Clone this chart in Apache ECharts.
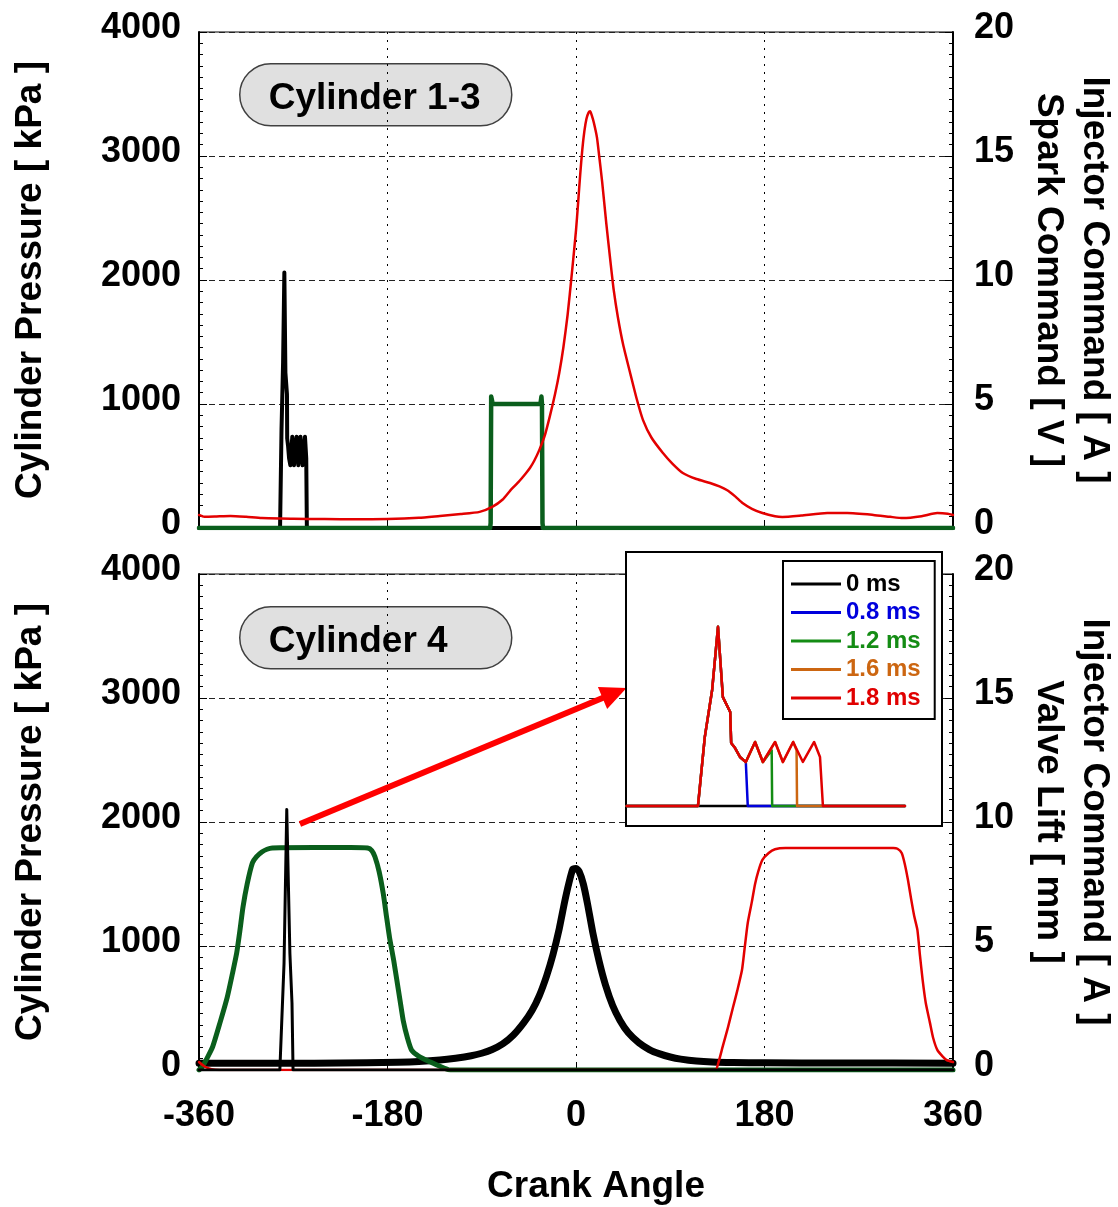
<!DOCTYPE html>
<html><head><meta charset="utf-8">
<script src="https://cdn.jsdelivr.net/npm/echarts/dist/echarts.min.js"></script>
<style>html,body{margin:0;padding:0;background:#fff;overflow:hidden}#c{width:1118px;height:1207px}</style>
</head><body><div id="c"></div>
<script>
// ---------------- DATA ----------------
const xTickLabels = [-360, -180, 0, 180, 360];
const pressureTicks = [0, 1000, 2000, 3000, 4000];
const rightTicks = [0, 5, 10, 15, 20];

// Top panel (Cylinder 1-3): cylinder pressure [kPa]
const cyl13PressAngle = [-360,-355,-345,-330,-315,-300,-270,-240,-210,-180,-150,-130,-110,-92,-80,-70,-63,-55,-48,-44,-40,-35,-30,-25,-20,-16,-12,-8,-4,0,2,4,6,8,10,12,13.5,15,17,20,22,25,29,33,36,40,45,52,58,64,72,83,92,102,115,128,137,144,152,159,168,178,190,197,215,240,259,284,300,312,330,345,355,360];
const cyl13Press      = [105,90,92,97,90,80,75,72,70,72,82,97,112,130,170,230,300,370,440,484,540,630,740,900,1080,1250,1460,1720,2050,2400,2620,2850,3050,3200,3300,3350,3360,3330,3270,3150,3010,2790,2450,2140,1920,1700,1480,1240,1040,870,730,605,520,444,395,363,335,306,255,202,155,121,95,89,100,120,120,105,90,80,95,120,115,105];

// Top panel: injector command [A]
const cyl13InjAngle = [-360,-282.6,-281.2,-279.7,-278.5,-277.5,-276.0,-275.8,-275.0,-274.0,-272.8,-270.9,-269.3,-266.8,-265.2,-263.1,-261.1,-258.8,-257.6,-257.0,360];
const cyl13Inj      = [0,0,3.97,6.67,10.3,6.26,5.4,3.62,3.33,2.82,2.53,3.68,2.53,3.68,2.53,3.68,2.53,3.68,2.82,0,0];

// Top panel: spark command [V]
const sparkAngle = [-360,-82,-81.5,-81,-80,-79,-34,-33,-32.5,-32,-31.5,360];
const spark      = [0,0,0.2,5.3,5.1,5.0,5.0,5.3,5.0,0.2,0,0];

// Bottom panel (Cylinder 4): cylinder pressure [kPa]
const cyl4PressAngle = [-360,-300,-250,-200,-170,-150,-130,-115,-100,-90,-80,-70,-60,-50,-42,-35,-28,-22,-16,-11,-7,-3,0,3,7,11,16,22,28,35,42,50,60,70,80,90,100,115,130,150,180,250,360];
const cyl4Press      = [55,55,55,58,62,68,80,95,115,135,165,210,280,380,480,600,760,930,1140,1350,1500,1620,1625,1600,1500,1340,1110,880,690,520,400,300,220,165,130,105,88,72,64,60,58,56,55];

// Bottom panel: intake valve lift [mm]
const intakeAngle = [-360,-357,-352,-347,-340,-333,-328,-324,-321,-318,-314,-309,-305,-300,-295,-290,-250,-215,-199,-195,-192,-188,-184,-181,-178,-174,-171,-168,-165,-161,-157,-150,-139,-130,-120,360];
const intakeLift  = [0,0.12,0.5,0.93,1.9,2.94,3.9,4.72,5.6,6.57,7.5,8.35,8.6,8.79,8.9,8.95,8.97,8.97,8.95,8.85,8.6,8.0,7.1,6.2,5.33,4.4,3.6,2.8,2.0,1.3,0.8,0.55,0.32,0.15,0,0];

// Bottom panel: exhaust valve lift [mm]
const exhaustAngle = [-360,-355,-348,-340,133,136,140,145,150,154,158.5,161,164,168,171,174,178,184,190,200,250,303,307,311,314,317,320,323,326,328.5,331,334,338,341,345,350,354,360];
const exhaustLift  = [0.32,0.15,0.03,0,0,0.3,0.93,1.7,2.54,3.2,4.03,4.9,5.93,6.8,7.5,8.0,8.47,8.75,8.9,8.95,8.95,8.95,8.92,8.75,8.3,7.66,6.9,6.2,5.65,4.6,3.63,2.7,1.9,1.3,0.81,0.55,0.4,0.32];

// Bottom panel: injector command [A]
const cyl4InjAngle = [-360,-282.8,-278.8,-276.2,-273.2,-271.2,-270.2,360];
const cyl4Inj      = [0,0,4.3,10.5,4.7,2.7,0,0];

// Inset: injector current for different injection durations [A]
const insetNames = ['0 ms','0.8 ms','1.2 ms','1.6 ms','1.8 ms'];
const inset0Angle  = [-297.2,-240.2];
const inset0       = [0,0];
const inset08Angle = [-297.2,-282.6,-281.2,-279.7,-278.5,-277.5,-276.0,-275.8,-275.0,-274.0,-272.8,-272.6,-272.4,-240.2];
const inset08      = [0,0,3.97,6.67,10.3,6.26,5.4,3.62,3.33,2.82,2.53,2.5,0,0];
const inset12Angle = [-297.2,-282.6,-281.2,-279.7,-278.5,-277.5,-276.0,-275.8,-275.0,-274.0,-272.8,-270.9,-269.3,-267.5,-267.4,-240.2];
const inset12      = [0,0,3.97,6.67,10.3,6.26,5.4,3.62,3.33,2.82,2.53,3.68,2.53,3.2,0,0];
const inset16Angle = [-297.2,-282.6,-281.2,-279.7,-278.5,-277.5,-276.0,-275.8,-275.0,-274.0,-272.8,-270.9,-269.3,-266.8,-265.2,-263.1,-262.4,-262.3,-240.2];
const inset16      = [0,0,3.97,6.67,10.3,6.26,5.4,3.62,3.33,2.82,2.53,3.68,2.53,3.68,2.53,3.68,3.2,0,0];
const inset18Angle = [-297.2,-282.6,-281.2,-279.7,-278.5,-277.5,-276.0,-275.8,-275.0,-274.0,-272.8,-270.9,-269.3,-266.8,-265.2,-263.1,-261.1,-258.8,-257.6,-257.0,-240.2];
const inset18      = [0,0,3.97,6.67,10.3,6.26,5.4,3.62,3.33,2.82,2.53,3.68,2.53,3.68,2.53,3.68,2.53,3.68,2.82,0,0];

// Arrow annotation (crank angle, kPa) from spike to inset
const arrowFrom = [-263.6, 1984];
const arrowTo   = [36.8, 3040];

// ---------------- STYLE ----------------
const FONT = '"Liberation Sans", Arial, Helvetica, sans-serif';
const RED = '#e30000', DKGREEN = '#0a5e1c', BLACK = '#000';
const insetColors = ['#000000', '#0000dd', '#148c14', '#cc6611', '#e00000'];

function zip(a, b) { return a.map((x, i) => [x, b[i]]); }
const plainNum = v => String(v);

const labelStyle = { fontSize: 36, fontWeight: 'bold', color: '#000', fontFamily: FONT };
const nameStyle = { fontSize: 37, fontWeight: 'bold', color: '#000', fontFamily: FONT };

function xAxisCfg(gi, showLabels) {
  return {
    gridIndex: gi, type: 'value', min: xTickLabels[0], max: xTickLabels[xTickLabels.length - 1], interval: 180,
    axisLine: { show: true, onZero: false, lineStyle: { color: '#000', width: 2 } },
    axisTick: { show: true, inside: true, length: 7, lineStyle: { color: '#000', width: 1 } },
    axisLabel: Object.assign({ show: showLabels, margin: 28, formatter: plainNum }, labelStyle),
    splitLine: { show: true, lineStyle: { color: '#000', width: 1, type: [2, 6] } },
    name: showLabels ? 'Crank Angle' : '', nameLocation: 'middle', nameGap: 98,
    nameTextStyle: Object.assign({ padding: [0, 0, 0, 40] }, nameStyle)
  };
}
function leftAxisCfg(gi) {
  return {
    gridIndex: gi, type: 'value', position: 'left', min: pressureTicks[0], max: pressureTicks[4], interval: 1000,
    axisLine: { show: true, onZero: false, lineStyle: { color: '#000', width: 2 } },
    axisTick: { show: true, inside: true, length: 8, lineStyle: { color: '#000', width: 1 } },
    minorTick: { show: true, splitNumber: 11, length: 4, lineStyle: { color: '#000', width: 1 } },
    axisLabel: Object.assign({ margin: 18, verticalAlign: 'bottom', lineHeight: 8, formatter: plainNum }, labelStyle),
    splitLine: { show: true, lineStyle: { color: '#222', width: 1, type: [6, 4] } },
    name: 'Cylinder Pressure [ kPa ]', nameLocation: 'middle', nameRotate: 90, nameGap: 150,
    nameTextStyle: nameStyle
  };
}
function rightAxisCfg(gi, nm) {
  return {
    gridIndex: gi, type: 'value', position: 'right', min: rightTicks[0], max: rightTicks[4], interval: 5,
    axisLine: { show: true, onZero: false, lineStyle: { color: '#000', width: 2 } },
    axisTick: { show: true, inside: true, length: 8, lineStyle: { color: '#000', width: 1 } },
    minorTick: { show: true, splitNumber: 11, length: 4, lineStyle: { color: '#000', width: 1 } },
    axisLabel: Object.assign({ margin: 21, verticalAlign: 'bottom', lineHeight: 8, formatter: plainNum }, labelStyle),
    splitLine: { show: false },
    name: nm, nameLocation: 'middle', nameRotate: -90, nameGap: 64,
    nameTextStyle: Object.assign({ lineHeight: 46 }, nameStyle)
  };
}
function lineSeries(name, xi, yi, data, color, width, z, smooth) {
  const s = { type: 'line', name: name, xAxisIndex: xi, yAxisIndex: yi, data: data, symbol: 'none', silent: true,
    lineStyle: { color: color, width: width, join: 'round', cap: 'round' }, itemStyle: { color: color }, z: z || 2, animation: false };
  if (smooth) { s.smooth = smooth; }
  return s;
}
function labelBox(top, txt) {
  return { type: 'group', left: 239, top: top, z: 30, children: [
    { type: 'rect', shape: { x: 0, y: 0, width: 272, height: 62, r: 31 }, style: { fill: '#e0e0e0', stroke: '#404040', lineWidth: 1.5 } },
    { type: 'text', x: 29, y: 35, style: { text: txt, font: 'bold 37px ' + FONT, fill: '#000', verticalAlign: 'middle', textVerticalAlign: 'middle' } }
  ]};
}

const chart = echarts.init(document.getElementById('c'), null, { renderer: 'canvas' });
const cyl4PressSeries = lineSeries('Cyl4 Pressure', 1, 2, zip(cyl4PressAngle, cyl4Press), BLACK, 7, 2, 0.2);
cyl4PressSeries.markLine = {
  silent: true, symbol: ['none', 'triangle'], symbolSize: [24, 26], animation: false,
  lineStyle: { color: '#ff0000', width: 6, type: 'solid' }, label: { show: false },
  data: [[{ coord: arrowFrom }, { coord: arrowTo }]]
};

const option = {
  animation: false,
  backgroundColor: '#fff',
  grid: [
    { left: 199, top: 32, width: 754, height: 496, show: true, borderColor: '#000', borderWidth: 1, backgroundColor: 'transparent', containLabel: false, outerBoundsMode: 'none' },
    { left: 199, top: 574, width: 754, height: 496, show: true, borderColor: '#000', borderWidth: 1, backgroundColor: 'transparent', containLabel: false, outerBoundsMode: 'none' },
    { left: 626, top: 552, width: 316, height: 274, show: true, borderColor: '#000', borderWidth: 2, backgroundColor: '#fff', z: 10, containLabel: false, outerBoundsMode: 'none' }
  ],
  xAxis: [
    xAxisCfg(0, false),
    xAxisCfg(1, true),
    { gridIndex: 2, type: 'value', min: -297.35, max: -232.6, show: false }
  ],
  yAxis: [
    leftAxisCfg(0),
    rightAxisCfg(0, 'Injector Command [ A ]\nSpark Command [ V ]'),
    leftAxisCfg(1),
    rightAxisCfg(1, 'Injector Command [ A ]\nValve Lift [ mm ]'),
    { gridIndex: 2, type: 'value', min: -1.15, max: 14.6, show: false }
  ],
  legend: {
    data: insetNames.map((n, i) => ({ name: n, icon: 'rect', textStyle: { color: insetColors[i] } })),
    left: 783, top: 561, orient: 'vertical', itemWidth: 50, itemHeight: 3, itemGap: 0.5,
    padding: [9, 14, 7, 8], backgroundColor: '#fff', borderColor: '#000', borderWidth: 2,
    textStyle: { fontSize: 24, fontWeight: 'bold', fontFamily: FONT, lineHeight: 28 },
    selectedMode: false, z: 20
  },
  series: [
    lineSeries('Cyl13 Injector', 0, 1, zip(cyl13InjAngle, cyl13Inj), BLACK, 4, 2),
    lineSeries('Spark', 0, 1, zip(sparkAngle, spark), DKGREEN, 4.5, 2),
    lineSeries('Cyl13 Pressure', 0, 0, zip(cyl13PressAngle, cyl13Press), RED, 2.5, 2, 0.2),
    cyl4PressSeries,
    lineSeries('Intake Valve', 1, 3, zip(intakeAngle, intakeLift), DKGREEN, 5, 2, 0.2),
    lineSeries('Exhaust Valve', 1, 3, zip(exhaustAngle, exhaustLift), RED, 2.5, 2, 0.2),
    lineSeries('Cyl4 Injector', 1, 3, zip(cyl4InjAngle, cyl4Inj), BLACK, 3, 2),
    lineSeries(insetNames[0], 2, 4, zip(inset0Angle, inset0), insetColors[0], 2.5, 12),
    lineSeries(insetNames[1], 2, 4, zip(inset08Angle, inset08), insetColors[1], 2.5, 12),
    lineSeries(insetNames[2], 2, 4, zip(inset12Angle, inset12), insetColors[2], 2.5, 12),
    lineSeries(insetNames[3], 2, 4, zip(inset16Angle, inset16), insetColors[3], 2.5, 12),
    lineSeries(insetNames[4], 2, 4, zip(inset18Angle, inset18), insetColors[4], 2.5, 12)
  ],
  graphic: [ labelBox(63, 'Cylinder 1-3'), labelBox(606, 'Cylinder 4') ]
};
chart.setOption(option);
</script></body></html>
